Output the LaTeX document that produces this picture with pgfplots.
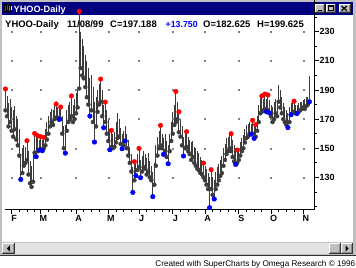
\documentclass[border=0pt]{standalone}
\usepackage{fontspec}
\setmainfont{Liberation Sans}
\usepackage{pgfplots}
\pgfplotsset{compat=1.18}
\usepackage{pgfplotstable}
\definecolor{wingray}{RGB}{192,192,192}
\definecolor{navy}{RGB}{0,0,128}
\definecolor{barc}{RGB}{60,60,60}
\definecolor{track}{RGB}{226,226,226}

\pgfplotstableread{
d lo hi
-4 176 190.7
-3 172 186
-2 165 181
-1 168 184
0 162 178
1 158 176
2 163 179
3 156 172
4 152 170
5 145 163
6 128.6 146
7 133 150
8 138 152
9 140 151
10 142 155.2
11 132 148
12 126 141
13 123.5 138
14 127 147
15 147 160.2
16 144.2 157
17 148 158.6
18 148.8 156
19 149.5 157.9
20 148.3 156
21 150 157.5
22 152 163
23 156 168
24 160 172
25 165 175
26 168 177
27 166 176
28 170 179
29 171 180.4
30 171 178
31 169.8 177
32 170 178.3
33 160 172
34 150 165
35 146.7 166
36 162 176
37 168 180
38 170 182
39 172 185.9
40 168 180
41 170 184
42 174 188
43 178 190
44 191 244
45 205 230
46 200 225
47 198 220
48 192 214
49 185 210
50 180 205
51 172.1 198
52 176 200
53 168 192
54 154.3 182
55 165 185
56 175 190
57 180 194
58 182 197.5
59 172 190
60 164.1 180
61 168 181.7
62 160 176
63 155 170
64 149 163
65 151 162.3
66 150 160
67 151 161
68 154 168
69 157 174
70 158 170
71 153 164
72 149.7 160
73 152 162
74 155 165
75 150 160
76 145 156
77 140 151
78 134 146
79 119.7 137
80 128 140.8
81 131.2 139
82 135 146
83 137 149.9
84 129.8 142
85 134 145
86 137 148
87 136 146
88 132 143
89 134 147
90 130 141
91 128 138
92 116.8 134
93 125 140
94 138 152
95 145 158
96 150 162
97 152 165.7
98 150 160
99 145.8 157
100 148 160
101 144 155
102 139.4 152
103 148 160
104 155 168
105 160 175
106 166 180
107 168 189
108 170 182
109 161 175
110 158 170
111 152 165
112 144.7 158
113 150 160
114 151 161.4
115 148 158
116 146 156
117 142 154
118 144 155
119 140 151
120 138 150
121 136 148
122 135 147
123 133 144
124 132 142
125 130 139.8
126 128 138
127 125 136
128 122 133
129 109.2 130
130 122 135.3
131 118 130
132 115.2 128
133 122 134
134 125 137
135 128 139
136 131 142
137 133 145
138 138 150
139 142 153
140 146 157
141 148 158
142 150 159
143 148 160
144 144 156
145 141 152
146 138.9 150
147 140 148.8
148 142 150
149 145 154
150 148 157
151 150 159
152 154 163
153 157 166
154 158 167
155 160 168
156 159.7 167
157 160 169.2
158 156.8 165
159 158 166.2
160 162 172
161 168 180
162 174 185
163 175 185.9
164 176 184
165 177 187.2
166 175.1 184
167 176 186.6
168 174.2 183
169 172 180
170 168 178
171 170 182
172 174 184
173 172 182
174 182 193.6
175 178 190
176 174 185
177 170 181
178 168 178
179 166 176
180 164.2 174
181 168 178
182 173 181
183 174 182
184 175 182.3
185 174 180
186 173.9 180
187 175 181
188 176 182
189 177 182
190 178 183
191 177 184
192 179 185
193 180 185
194 181.9 199.6
}\bars

\pgfplotstableread{
d y
-4 190.7
10 155.2
15 160.2
17 158.6
19 157.9
21 157.5
29 180.4
32 178.3
39 185.9
44 244
58 197.5
61 181.7
65 162.3
80 140.8
83 149.9
97 165.7
107 189
109 175
114 161.4
125 139.8
130 135.3
143 160
147 148.8
157 169.2
159 166.2
163 185.9
165 187.2
167 186.6
184 182.3
}\reds

\pgfplotstableread{
d y
6 128.6
16 144.2
18 148.8
20 148.3
31 169.8
35 146.7
51 172.1
54 154.3
60 164.1
64 149
72 149.7
74 155
79 119.7
81 131.2
84 129.8
92 116.8
99 145.8
102 139.4
112 144.7
129 109.2
132 115.2
146 138.9
156 159.7
158 156.8
166 175.1
168 174.2
180 164.2
182 173
186 173.9
194 181.9
}\blues

\pgfplotstableread{
d y
0 130
0 150
0 170
0 190
0 210
0 230
19 130
19 150
19 170
19 190
19 210
19 230
42 130
42 150
42 170
42 190
42 210
42 230
63 130
63 150
63 170
63 190
63 210
63 230
83 130
83 150
83 170
83 190
83 210
83 230
105 130
105 150
105 170
105 190
105 210
105 230
126 130
126 150
126 170
126 190
126 210
126 230
148 130
148 150
148 170
148 190
148 210
148 230
169 130
169 150
169 170
169 190
169 210
169 230
190 130
190 150
190 170
190 190
190 210
190 230
}\gridpts

\newcommand{\winbtn}[4]{%
  \fill[wingray] (#1,#2) rectangle (#3,#4);
  \draw[white,line width=0.8bp] (#1+0.4,#2+0.8) -- (#1+0.4,#4-0.4) -- (#3-0.8,#4-0.4);
  \draw[black!80,line width=0.8bp] (#1,#2+0.4) -- (#3-0.4,#2+0.4) -- (#3-0.4,#4);
  \draw[black!45,line width=0.8bp] (#1+1,#2+1.2) -- (#3-1.2,#2+1.2) -- (#3-1.2,#4-1);
}

\begin{document}
\begin{tikzpicture}[x=1bp,y=1bp]
\useasboundingbox (0,0) rectangle (356,268);
\fill[white] (0,0) rectangle (356,268);
% window frame
\fill[wingray] (0,12) rectangle (356,268);
\draw[black!80, line width=1bp] (0,12.5) -- (356,12.5);
% client area
\fill[white] (2.5,25.5) rectangle (352.5,252.5);
% title bar
\fill[navy] (2,253) rectangle (353,266);
% icon
\fill[black] (4,255.5) rectangle (12,264);
\draw[red, line width=1bp] (5.2,257) -- (5.2,262);
\draw[red, line width=1bp] (7.4,258) -- (7.4,263);
\draw[green!80!black, line width=1bp] (9.6,256.5) -- (9.6,261.5);
\draw[white, line width=0.8bp] (11.3,258) -- (11.3,262);
\node[anchor=base west, inner sep=0, text=white, font=\bfseries\fontsize{9.2}{10}\selectfont] at (13.5,256) {YHOO-Daily};
% title buttons
\winbtn{315}{255}{325}{264}
\fill[black] (317.5,257) rectangle (321.5,258.3);
\winbtn{326}{255}{336}{264}
\draw[black, line width=0.7bp] (328.3,257.3) rectangle (333.3,262.2);
\draw[black, line width=1.2bp] (328.3,262) -- (333.3,262);
\winbtn{338.5}{255}{350.5}{264}
\draw[black, line width=1.2bp] (341.5,257.3) -- (346.8,262) (341.5,262) -- (346.8,257.3);
% info line
\begin{scope}[every node/.style={anchor=base west, inner sep=0, font=\bfseries\fontsize{9.5}{11}\selectfont}]
\node at (5,240.5) {YHOO-Daily};
\node at (67,240.5) {11/08/99};
\node at (110,240.5) {C=197.188};
\node[text=blue, font=\bfseries\fontsize{8.8}{11}\selectfont] at (165.5,240.5) {+13.750};
\node at (203,240.5) {O=182.625};
\node at (257,240.5) {H=199.625};
\end{scope}
% scrollbar
\fill[track] (2,14) rectangle (353,25);
\winbtn{2}{14}{15}{25}
\fill[black] (6.8,19.5) -- (9.8,22.5) -- (9.8,16.5) -- cycle;
\winbtn{329}{14}{341}{25}
\winbtn{341}{14}{353}{25}
\fill[black] (348.7,19.5) -- (345.7,22.5) -- (345.7,16.5) -- cycle;
% footer
\node[anchor=base east, inner sep=0, font=\fontsize{8.2}{9}\selectfont] at (355.5,1.8) {Created with SuperCharts by Omega Research © 1996};

\begin{axis}[
  at={(3,40)}, anchor=south west,
  width=310bp, height=212bp, scale only axis,
  xmin=-4.56, xmax=197.4, ymin=107.83, ymax=253.33,
  clip=false,
  axis x line*=bottom, axis y line*=right,
  axis line style={black, line width=0.8bp, -},
  tick align=outside,
  major tick length=4bp, minor tick length=2.5bp,
  every tick/.style={black, line width=0.8bp},
  xtick={0,19,42,63,83,105,126,148,169,190},
  xticklabels={F,M,A,M,J,J,A,S,O,N},
  minor xtick={5,10,15,24,29,34,39,47,52,57,68,73,78,88,93,98,103,110,115,120,131,136,141,146,153,158,163,174,179,184},
  ytick={130,150,170,190,210,230},
  minor ytick={110,120,140,160,180,200,220,240,250},
  /pgf/number format/assume math mode=true,
  ticklabel style={font=\bfseries\fontsize{9}{10}\selectfont},
  xticklabel style={inner sep=1bp, xshift=2.5bp},
  yticklabel style={inner xsep=0.8bp},
]
\addplot[only marks, mark=square*, mark size=0.45bp, gray] table[x=d,y=y]{\gridpts};
\addplot[barc, only marks, mark=none,
  error bars/.cd, y dir=plus, y explicit, error mark=none,
  error bar style={line width=0.9bp, barc}]
  table[x=d, y=lo, y error expr=\thisrow{hi}-\thisrow{lo}]{\bars};
\addplot[only marks, mark=*, mark size=2.3bp, color=red] table[x=d,y=y]{\reds};
\addplot[only marks, mark=*, mark size=2.3bp, color=blue] table[x=d,y=y]{\blues};
\end{axis}
\end{tikzpicture}
\end{document}
